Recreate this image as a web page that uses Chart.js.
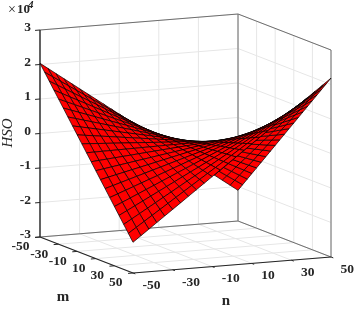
<!DOCTYPE html>
<html>
<head>
<meta charset="utf-8">
<style>
body { margin: 0; background: #fff; }
canvas { display: block; }
</style>
<script src="https://cdn.jsdelivr.net/npm/chart.js@4"></script>
</head>
<body>
<canvas id="surfaceChart" width="357" height="309"></canvas>
<script>
const mValues = [-50,-45,-40,-35,-30,-25,-20,-15,-10,-5,0,5,10,15,20,25,30,35,40,45,50];
const nValues = [-50,-46,-42,-38,-34,-30,-26,-22,-18,-14,-10,-6,-2,2,6,10,14,18,22,26,30,34,38,42,46,50];
const mTicks = [-50,-30,-10,10,30,50];
const nTicks = [-50,-30,-10,10,30,50];
const zTicks = [-3,-2,-1,0,1,2,3];
const zMin = -3, zMax = 3, zFactor = 10000;

// HSO, one row per m value, one column per n value
const hso = [
[20350,18692,17034,15376,13718,12060,10402,8744,7086,5428,3770,2112,454,-1204,-2862,-4520,-6178,-7836,-9494,-11152,-12810,-14468,-16126,-17784,-19442,-21100],
[18278,16788,15299,13810,12321,10832,9342,7853,6364,4875,3386,1896,407,-1082,-2571,-4061,-5550,-7039,-8528,-10017,-11507,-12996,-14485,-15974,-17463,-18953],
[16205,14885,13564,12244,10923,9603,8283,6962,5642,4321,3001,1681,360,-960,-2281,-3601,-4921,-6242,-7562,-8883,-10203,-11523,-12844,-14164,-15485,-16805],
[14133,12981,11829,10678,9526,8375,7223,6071,4920,3768,2617,1465,313,-838,-1990,-3142,-4293,-5445,-6596,-7748,-8900,-10051,-11203,-12354,-13506,-14658],
[12060,11077,10094,9112,8129,7146,6163,5180,4198,3215,2232,1249,266,-716,-1699,-2682,-3665,-4648,-5630,-6613,-7596,-8579,-9562,-10544,-11527,-12510],
[9988,9174,8360,7546,6732,5918,5104,4290,3476,2662,1848,1034,220,-595,-1409,-2223,-3037,-3851,-4665,-5479,-6293,-7107,-7921,-8735,-9549,-10363],
[7915,7270,6625,5979,5334,4689,4044,3399,2753,2108,1463,818,173,-473,-1118,-1763,-2408,-3053,-3699,-4344,-4989,-5634,-6279,-6925,-7570,-8215],
[5843,5366,4890,4413,3937,3461,2984,2508,2031,1555,1079,602,126,-351,-827,-1304,-1780,-2256,-2733,-3209,-3686,-4162,-4638,-5115,-5591,-6068],
[3770,3462,3155,2847,2540,2232,1924,1617,1309,1002,694,386,79,-229,-536,-844,-1152,-1459,-1767,-2074,-2382,-2690,-2997,-3305,-3612,-3920],
[1698,1559,1420,1281,1142,1004,865,726,587,448,310,171,32,-107,-246,-385,-523,-662,-801,-940,-1079,-1217,-1356,-1495,-1634,-1773],
[-375,-345,-315,-285,-255,-225,-195,-165,-135,-105,-75,-45,-15,15,45,75,105,135,165,195,225,255,285,315,345,375],
[-2448,-2249,-2050,-1851,-1652,-1454,-1255,-1056,-857,-658,-460,-261,-62,137,336,535,733,932,1131,1330,1529,1727,1926,2125,2324,2523],
[-4520,-4152,-3785,-3417,-3050,-2682,-2314,-1947,-1579,-1212,-844,-476,-109,259,626,994,1362,1729,2097,2464,2832,3200,3567,3935,4302,4670],
[-6593,-6056,-5520,-4983,-4447,-3911,-3374,-2838,-2301,-1765,-1229,-692,-156,381,917,1454,1990,2526,3063,3599,4136,4672,5208,5745,6281,6818],
[-8665,-7960,-7255,-6549,-5844,-5139,-4434,-3729,-3023,-2318,-1613,-908,-203,503,1208,1913,2618,3323,4029,4734,5439,6144,6849,7555,8260,8965],
[-10738,-9864,-8990,-8116,-7242,-6368,-5494,-4620,-3746,-2872,-1998,-1124,-250,625,1499,2373,3247,4121,4995,5869,6743,7617,8491,9365,10239,11113],
[-12810,-11767,-10724,-9682,-8639,-7596,-6553,-5510,-4468,-3425,-2382,-1339,-296,746,1789,2832,3875,4918,5960,7003,8046,9089,10132,11174,12217,13260],
[-14883,-13671,-12459,-11248,-10036,-8825,-7613,-6401,-5190,-3978,-2767,-1555,-343,868,2080,3292,4503,5715,6926,8138,9350,10561,11773,12984,14196,15408],
[-16955,-15575,-14194,-12814,-11433,-10053,-8673,-7292,-5912,-4531,-3151,-1771,-390,990,2371,3751,5131,6512,7892,9273,10653,12033,13414,14794,16175,17555],
[-19028,-17478,-15929,-14380,-12831,-11282,-9732,-8183,-6634,-5085,-3536,-1986,-437,1112,2661,4211,5760,7309,8858,10407,11957,13506,15055,16604,18153,19703],
[-21100,-19382,-17664,-15946,-14228,-12510,-10792,-9074,-7356,-5638,-3920,-2202,-484,1234,2952,4670,6388,8106,9824,11542,13260,14978,16696,18414,20132,21850]
];

// Chart.js has no 3D, so (m, n, z) goes through a fixed projection onto a plain x/y scatter
function project(m, n, z) {
    return {
        x: 185.5 + n / 50 * 99 + m / 50 * 46.5,
        y: 247 - n / 50 * 8 + m / 50 * 18 - (z + 3) * 34.5
    };
}

// bigger = further from the camera
function depth(m, n, z) {
    return -10246 * m / 50 + 4813 * n / 50 - 2154 * z / 3;
}

function line3d(from, to, color, width) {
    return {
        data: [project(from[0], from[1], from[2]), project(to[0], to[1], to[2])],
        showLine: true,
        fill: false,
        borderColor: color,
        borderWidth: width,
        pointRadius: 0
    };
}

function buildSurface() {
    var cells = [];
    for (var i = 0; i < mValues.length - 1; i++) {
        for (var j = 0; j < nValues.length - 1; j++) {
            var corners = [[i, j], [i, j + 1], [i + 1, j + 1], [i + 1, j], [i, j]];
            var pts = corners.map(c => project(mValues[c[0]], nValues[c[1]], hso[c[0]][c[1]] / zFactor));
            var avgZ = (hso[i][j] + hso[i][j + 1] + hso[i + 1][j] + hso[i + 1][j + 1]) / 4 / zFactor;
            cells.push({
                d: depth((mValues[i] + mValues[i + 1]) / 2, (nValues[j] + nValues[j + 1]) / 2, avgZ),
                set: {
                    data: pts,
                    showLine: true,
                    fill: 'shape',
                    backgroundColor: '#ff0000',
                    borderColor: '#000000',
                    borderWidth: 0.7,
                    pointRadius: 0
                }
            });
        }
    }
    // first dataset is painted last, so nearest cells go first
    cells.sort((a, b) => a.d - b.d);
    return cells.map(c => c.set);
}

function buildBox() {
    var dark = '#262626', mid = '#6e6e6e';
    var sets = [];
    // ticks and axis lines
    zTicks.forEach(z => sets.push(line3d([-50, -50, z], [-50, -52.5, z], dark, 1)));
    mTicks.forEach(m => sets.push(line3d([m, -50, zMin], [m, -52.5, zMin], dark, 1)));
    nTicks.forEach(n => sets.push(line3d([50, n, zMin], [52.5, n, zMin], dark, 1)));
    sets.push(line3d([-50, -50, zMin], [-50, -50, zMax], dark, 1.4));
    sets.push(line3d([-50, -50, zMin], [50, -50, zMin], dark, 1.2));
    sets.push(line3d([50, -50, zMin], [50, 50, zMin], dark, 1.2));
    sets.push(line3d([-50, -50, zMax], [-50, 50, zMax], mid, 1));
    sets.push(line3d([-50, 50, zMax], [50, 50, zMax], mid, 1));
    sets.push(line3d([-50, 50, zMin], [-50, 50, zMax], mid, 1));
    sets.push(line3d([50, 50, zMin], [50, 50, zMax], mid, 1));
    sets.push(line3d([-50, -50, zMin], [-50, 50, zMin], mid, 1));
    sets.push(line3d([-50, 50, zMin], [50, 50, zMin], mid, 1));
    return sets;
}

function buildGrid() {
    var grey = '#e6e6e6';
    var sets = [];
    nTicks.forEach(n => {
        sets.push(line3d([-50, n, zMin], [-50, n, zMax], grey, 1));
        sets.push(line3d([-50, n, zMin], [50, n, zMin], grey, 1));
    });
    mTicks.forEach(m => {
        sets.push(line3d([m, 50, zMin], [m, 50, zMax], grey, 1));
        sets.push(line3d([m, -50, zMin], [m, 50, zMin], grey, 1));
    });
    zTicks.forEach(z => {
        sets.push(line3d([-50, -50, z], [-50, 50, z], grey, 1));
        sets.push(line3d([-50, 50, z], [50, 50, z], grey, 1));
    });
    return sets;
}

const axisText = {
    id: 'axisText',
    afterDraw(chart) {
        var ctx = chart.ctx;
        ctx.save();
        ctx.fillStyle = '#262626';
        ctx.textBaseline = 'middle';
        ctx.font = 'bold 13.5px "Liberation Serif"';

        ctx.textAlign = 'right';
        zTicks.forEach(z => {
            var p = project(-50, -50, z);
            ctx.fillText(String(z), 31, p.y - 2);
        });
        mTicks.forEach(m => {
            var p = project(m, -50, zMin);
            ctx.fillText(String(m), p.x - 10.4, p.y + 10);
        });
        ctx.textAlign = 'left';
        nTicks.forEach(n => {
            var p = project(50, n, zMin);
            ctx.fillText(String(n), p.x + 9.5, p.y + 12.4);
        });

        ctx.textAlign = 'center';
        ctx.font = 'bold 15px "Liberation Serif"';
        ctx.fillText('m', 63, 297);
        ctx.fillText('n', 226, 301);

        // exponent above the z axis
        ctx.font = '14px "Liberation Serif"';
        ctx.fillText('×', 12, 10);
        ctx.textAlign = 'left';
        ctx.font = 'bold 13px "Liberation Serif"';
        ctx.fillText('10', 17, 10);
        ctx.font = 'italic bold 11px "Liberation Serif"';
        ctx.fillText('4', 28, 5);

        ctx.translate(8, 133);
        ctx.rotate(-Math.PI / 2);
        ctx.textAlign = 'center';
        ctx.font = 'italic 15px "Liberation Serif"';
        ctx.fillText('HSO', 0, 0);
        ctx.restore();
    }
};

new Chart(document.getElementById('surfaceChart').getContext('2d'), {
    type: 'scatter',
    data: { datasets: buildSurface().concat(buildBox(), buildGrid()) },
    options: {
        responsive: false,
        animation: false,
        events: [],
        layout: { padding: 0 },
        scales: {
            x: { display: false, min: 0, max: 357 },
            y: { display: false, min: 0, max: 309, reverse: true }
        },
        plugins: {
            legend: { display: false },
            tooltip: { enabled: false }
        }
    },
    plugins: [axisText]
});
</script>
</body>
</html>
